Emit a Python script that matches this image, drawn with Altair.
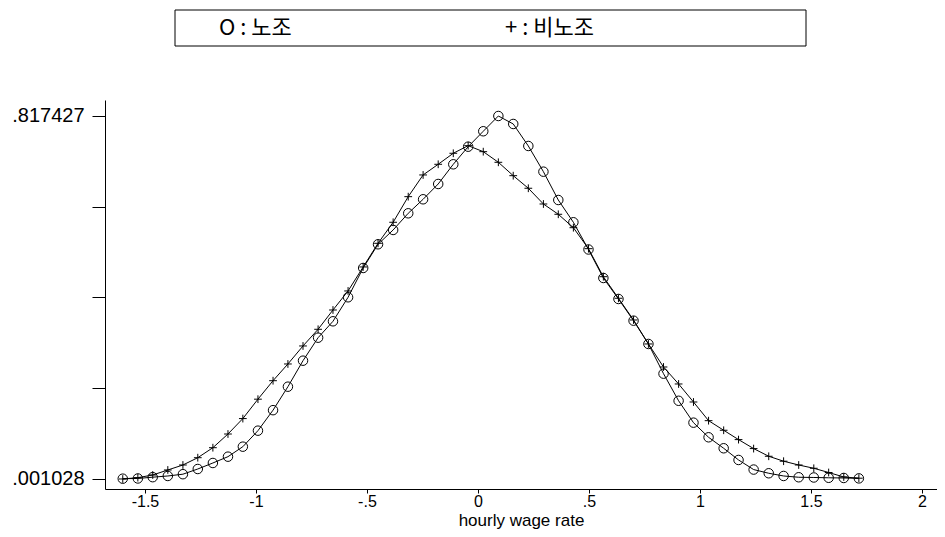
import altair as alt
import pandas as pd

# evaluation grid (50 kdensity points)
x_grid = [-1.600, -1.532, -1.465, -1.397, -1.329, -1.262, -1.194, -1.126, -1.059, -0.991,
          -0.923, -0.856, -0.788, -0.720, -0.653, -0.585, -0.517, -0.450, -0.382, -0.314,
          -0.247, -0.179, -0.111, -0.044, 0.024, 0.092, 0.159, 0.227, 0.295, 0.362,
          0.430, 0.498, 0.565, 0.633, 0.701, 0.768, 0.836, 0.904, 0.971, 1.039,
          1.107, 1.174, 1.242, 1.310, 1.377, 1.445, 1.513, 1.580, 1.648, 1.716]

# 노조 (circles)
union = [0.0017, 0.0022, 0.0051, 0.0078, 0.0118, 0.0235, 0.0370, 0.0512, 0.0737, 0.1097,
         0.1558, 0.2086, 0.2671, 0.3188, 0.3557, 0.4097, 0.4756, 0.5289, 0.5611, 0.5986,
         0.6301, 0.6645, 0.7088, 0.7484, 0.7831, 0.817427, 0.7995, 0.7500, 0.6922, 0.6285,
         0.5784, 0.5172, 0.4531, 0.4059, 0.3571, 0.3047, 0.2379, 0.1769, 0.1277, 0.0948,
         0.0701, 0.0438, 0.0222, 0.0139, 0.0078, 0.0049, 0.0044, 0.0037, 0.0033, 0.0024]

# 비노조 (plus)
nonunion = [0.001028, 0.0040, 0.0100, 0.0213, 0.0325, 0.0489, 0.0714, 0.1022, 0.1369, 0.1805,
            0.2221, 0.2597, 0.3002, 0.3377, 0.3811, 0.4239, 0.4779, 0.5311, 0.5784, 0.6360,
            0.6848, 0.7088, 0.7336, 0.7507, 0.7372, 0.7133, 0.6832, 0.6549, 0.6195, 0.5964,
            0.5662, 0.5190, 0.4560, 0.4075, 0.3586, 0.3047, 0.2529, 0.2147, 0.1742, 0.1322,
            0.1106, 0.0896, 0.0694, 0.0521, 0.0410, 0.0325, 0.0251, 0.0156, 0.0055, 0.0028]

groups = ["노조", "비노조"]
x_ticks = [-1.5, -1, -0.5, 0, 0.5, 1, 1.5, 2]
x_tick_labels = ["-1.5", "-1", "-.5", "0", ".5", "1", "1.5", "2"]
y_ticks = [0.001028, 0.205128, 0.409228, 0.613327, 0.817427]
y_tick_labels = [".001028", "", "", "", ".817427"]
legend_labels = ["O :  노조", "+ :  비노조"]
x_title = "hourly wage rate"

df = pd.DataFrame({
    "x": x_grid + x_grid,
    "y": union + nonunion,
    "group": [groups[0]] * len(x_grid) + [groups[1]] * len(x_grid),
})

x_expr = ""
for v, lab in zip(x_ticks, x_tick_labels):
    x_expr += f"abs(datum.value - ({v})) < 1e-6 ? '{lab}' : "
x_expr += "''"
y_expr = ""
for v, lab in zip(y_ticks, y_tick_labels):
    y_expr += f"abs(datum.value - ({v})) < 1e-5 ? '{lab}' : "
y_expr += "''"

FONT = "Liberation Sans"
xscale = alt.Scale(domain=[-1.68, 2.068], nice=False, zero=False)
yscale = alt.Scale(domain=[-0.0215, 0.8534], nice=False, zero=False)

x_enc = alt.X("x:Q", scale=xscale, axis=alt.Axis(
    values=x_ticks, labelExpr=x_expr, title=x_title, grid=False,
    tickSize=4, labelPadding=0, labelOverlap=False, labelFlush=False,
    labelFontSize=16, titleFontSize=17, titleY=31, titleBaseline="middle"))
y_enc = alt.Y("y:Q", scale=yscale, axis=alt.Axis(
    values=y_ticks, labelExpr=y_expr, title=None, grid=False,
    tickSize=13, labelPadding=8, labelOverlap=False, labelFlush=False,
    labelFontSize=20))

base = alt.Chart(df)
lines = base.mark_line(color="black", strokeWidth=1).encode(
    x=x_enc, y=y_enc, detail="group:N")
circles = base.transform_filter(alt.datum.group == groups[0]).mark_point(
    shape="circle", filled=False, color="black", size=90, strokeWidth=1, opacity=1
).encode(x=x_enc, y=y_enc)
pluses = base.transform_filter(alt.datum.group == groups[1]).mark_point(
    shape="M-1,0L1,0M0,-1L0,1", filled=False, color="black", size=60, strokeWidth=1, opacity=1
).encode(x=x_enc, y=y_enc)

one = pd.DataFrame({"a": [0]})
box = alt.Chart(one).mark_rect(fill="white", stroke="black", strokeWidth=1).encode(
    x=alt.value(70), x2=alt.value(701), y=alt.value(-90), y2=alt.value(-54))
leg1 = alt.Chart(one).mark_text(align="left", baseline="middle", font="Noto Sans CJK KR",
                                fontSize=22, color="black").encode(
    x=alt.value(114), y=alt.value(-72), text=alt.value(legend_labels[0]))
leg2 = alt.Chart(one).mark_text(align="left", baseline="middle", font="Noto Sans CJK KR",
                                fontSize=22, color="black").encode(
    x=alt.value(400), y=alt.value(-72), text=alt.value(legend_labels[1]))

chart = alt.layer(lines, circles, pluses, box, leg1, leg2).properties(
    width=832, height=389,
    padding={"left": 97, "top": 92, "right": 0, "bottom": 40},
    autosize=alt.AutoSizeParams(type="none"),
    background="white",
).configure_view(stroke=None).configure_axis(
    domainColor="black", tickColor="black", labelColor="black", titleColor="black",
    labelFont=FONT, titleFont=FONT,
    titleFontWeight="normal", domainWidth=1, tickWidth=1,
)

chart.save("out.html", embed_options={"renderer": "svg", "actions": False})
